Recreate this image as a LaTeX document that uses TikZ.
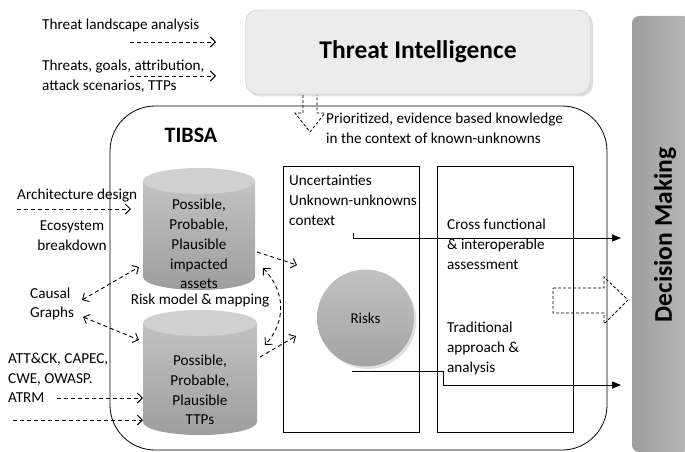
\documentclass[tikz,border=0pt]{standalone}
\usepackage{fontspec}
\setmainfont{Carlito}
\usepackage{tikz}
\usetikzlibrary{arrows.meta,shapes,shadows,positioning}
\definecolor{tigray}{RGB}{236,236,236}
\definecolor{cyltop}{RGB}{208,208,208}

\begin{document}
\begin{tikzpicture}[x=1pt, y=-1pt,
    txt/.style={font=\fontsize{15.2}{19.8}\selectfont, align=left, inner sep=0pt},
    title/.style={font=\fontsize{25.5}{28}\selectfont\bfseries, inner sep=0pt},
    tibox/.style={rectangle, draw=black!25, fill=tigray, rounded corners=12pt, minimum width=345pt, minimum height=84pt, drop shadow={opacity=0.25}},
    dmbar/.style={rectangle, rotate=90, rounded corners=7pt, left color=black!38, right color=black!28, minimum width=436pt, minimum height=58pt},
    panel/.style={rectangle, draw, thick, minimum width=136pt, minimum height=266pt},
    cylbody/.style={top color=black!24, bottom color=black!38},
    risk/.style={circle, top color=black!24, bottom color=black!36, minimum size=97pt, drop shadow={opacity=0.25}, font=\fontsize{15}{17}\selectfont},
    dasharrow/.style={-{Straight Barb[length=5pt,width=10pt]}, dash pattern=on 4pt off 3pt, line width=0.9pt},
    dualarrow/.style={{Straight Barb[length=5pt,width=10pt]}-{Straight Barb[length=5pt,width=10pt]}, dash pattern=on 4pt off 3pt, line width=0.9pt},
    arrow/.style={-{Triangle[length=9pt,width=7pt]}, line width=0.9pt},
    hollow/.style={dash pattern=on 3pt off 2pt, line width=0.8pt}
]
    \useasboundingbox (0,0) rectangle (685,452);

    % main blocks
    \node[tibox] (ti) at (418,52) {};
    \node[title] (tilabel) at (418,52) {Threat Intelligence};
    \node[dmbar] (dm) at (661,234) {};
    \node[title, rotate=90] (dmlabel) at (665,235) {Decision Making};
    \node[draw, thick, rounded corners=45pt, minimum width=497pt, minimum height=344pt] (tibsa) at (358.5,278) {};
    \node[font=\fontsize{22}{24}\selectfont\bfseries, inner sep=0pt] (tibsalabel) at (191,135) {TIBSA};

    \node[panel] (unc) at (351,299) {};
    \node[panel] (assess) at (505.5,299) {};
    \node[txt, anchor=north west] (unctext) at (289,175) {Uncertainties\\Unknown-unknowns\\context};
    \node[txt, anchor=north west] (cross) at (447,219) {Cross functional\\\& interoperable\\assessment};
    \node[txt, anchor=north west] (trad) at (447,322) {Traditional\\approach \&\\analysis};

    % the two stores
    \foreach \cx/\ya/\yb/\rx in {199/168/290/56, 200/310/435/57} {
        \shade[cylbody] (\cx-\rx,\ya+13) -- (\cx-\rx,\yb-13) arc (180:360:\rx pt and 13pt) -- (\cx+\rx,\ya+13) -- cycle;
        \fill[cyltop] (\cx,\ya+13) ellipse (\rx pt and 13pt);
    }
    \node[txt, align=center] (assets) at (199,244) {Possible,\\Probable,\\Plausible\\impacted\\assets};
    \node[txt, align=center] (ttps) at (200,390) {Possible,\\Probable,\\Plausible\\TTPs};
    \node[txt] (riskmodel) at (200,301) {Risk model \& mapping};
    \node[risk] (risks) at (365.5,318) {Risks};

    \node[txt, anchor=west] (prio) at (326,128) {Prioritized, evidence based knowledge\\in the context of known-unknowns};

    % inputs on the left
    \node[txt, anchor=west] (landscape) at (42,25) {Threat landscape analysis};
    \node[txt, anchor=west] (goals) at (42,76) {Threats, goals, attribution,\\attack scenarios, TTPs};
    \node[txt, anchor=west] (arch) at (17,196) {Architecture design};
    \node[txt, align=center] (eco) at (72,236) {Ecosystem\\breakdown};
    \node[txt, anchor=west] (causal) at (30,304) {Causal\\Graphs};
    \node[txt, anchor=west] (attck) at (8,378) {ATT\&CK, CAPEC,\\CWE, OWASP.\\ATRM};

    \coordinate (l1a) at (130,42);  \coordinate (l1b) at (216,42);
    \coordinate (l2a) at (130,76);  \coordinate (l2b) at (216,76);
    \coordinate (l3a) at (17,209);  \coordinate (l3b) at (131,209);
    \coordinate (c1a) at (82,300);  \coordinate (c1b) at (139,267);
    \coordinate (c2a) at (83,317);  \coordinate (c2b) at (139,340);
    \coordinate (l4a) at (57,398);  \coordinate (l4b) at (143,398);
    \coordinate (l5a) at (13,420);  \coordinate (l5b) at (143,420);
    \coordinate (u1a) at (257,252); \coordinate (u1b) at (297,265);
    \coordinate (u2a) at (260,357); \coordinate (u2b) at (296,336);
    \coordinate (m1) at (263,268);  \coordinate (m2) at (265,345);
    \coordinate (o1) at (353,233);  \coordinate (o2) at (352,371);
    \coordinate (e1) at (621,238);  \coordinate (e2) at (621,385);

    \draw[dasharrow] (l1a) -- (l1b);
    \draw[dasharrow] (l2a) -- (l2b);
    \draw[dasharrow] (l3a) -- (l3b);
    \draw[dualarrow] (c1a) -- (c1b);
    \draw[dualarrow] (c2a) -- (c2b);
    \draw[dasharrow] (l4a) -- (l4b);
    \draw[dasharrow] (l5a) -- (l5b);
    \draw[dasharrow] (u1a) -- (u1b);
    \draw[dasharrow] (u2a) -- (u2b);
    \draw[dualarrow] (m1) .. controls (286,292) and (286,322) .. (m2);

    % outputs to decision making
    \draw[arrow] (o1) -- ++(0,5) -- (e1);
    \draw[arrow] (o2) -- (443,371) -- (443,385) -- (e2);

    % block arrows
    \draw[hollow] (303,95) -- (303,113) -- (295,113) -- (310,132) -- (325,113) -- (317,113) -- (317,95);
    \draw[hollow] (553,288) -- (604,288) -- (604,277) -- (628,300) -- (604,324) -- (604,313) -- (553,313) -- cycle;
\end{tikzpicture}
\end{document}
